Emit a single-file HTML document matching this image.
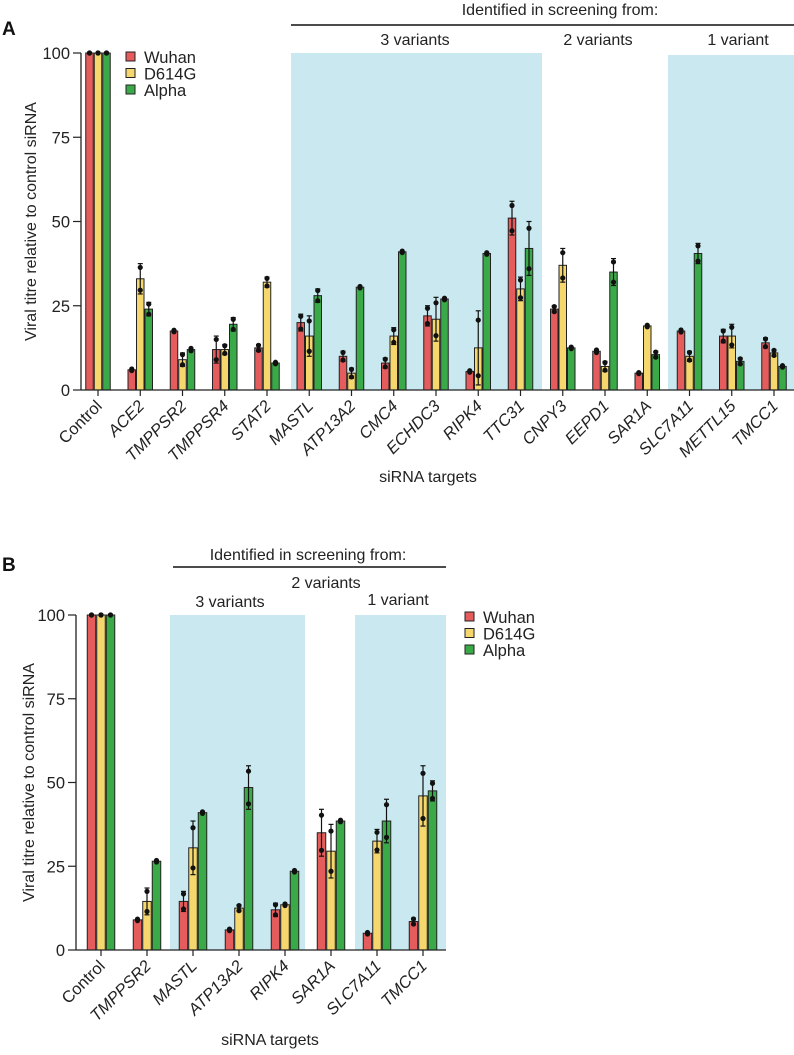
<!DOCTYPE html>
<html><head><meta charset="utf-8"><style>
html,body{margin:0;padding:0;background:#fff;}
svg{display:block;font-family:"Liberation Sans",Arial,sans-serif;}
</style></head><body>
<svg id="fig" width="794" height="1055" viewBox="0 0 794 1055" xmlns="http://www.w3.org/2000/svg"></svg>
<script>
const series = ['Wuhan','D614G','Alpha'];
const colors = ['#e45c5c','#f5d76e','#3aaa49'];
const yTicks = [0,25,50,75,100];

const catsA = ['Control','ACE2','TMPPSR2','TMPPSR4','STAT2','MASTL','ATP13A2','CMC4','ECHDC3','RIPK4','TTC31','CNPY3','EEPD1','SAR1A','SLC7A11','METTL15','TMCC1'];
const wuhanA = [100,6,17.5,12,12.5,20,10,8,22,5.5,51,24,11.5,5,17.5,16,14];
const d614gA = [100,33,9,12,32,16,5,16,21,12.5,30,37,7,19,10,16,11];
const alphaA = [100,24,12,19.5,8,28,30.5,41,27,40.5,42,12.5,35,10.5,40.5,8.5,7];
const wuhanErrA = [0,0.3,0.3,4,1,2.5,1.5,1.5,3,0.3,5,1,0.5,0.2,0.4,2,1.5];
const d614gErrA = [0,4.5,2,1.5,1.5,6,1.5,2.5,6.5,11,3.5,5,1.5,0.3,1.5,3.5,1];
const alphaErrA = [0,2,0.5,2,0.3,2,0.3,0.3,0.3,0.3,8,0.3,4,1,3,1,0.3];

const catsB = ['Control','TMPPSR2','MASTL','ATP13A2','RIPK4','SAR1A','SLC7A11','TMCC1'];
const wuhanB = [100,9,14.5,6,12,35,5,8.5];
const d614gB = [100,14.5,30.5,12.5,13.5,29.5,32.5,46];
const alphaB = [100,26.5,41,48.5,23.5,38.5,38.5,47.5];
const wuhanErrB = [0,0.3,3,0.3,2,7,0.3,1];
const d614gErrB = [0,4,8,1,0.3,8,3.5,9];
const alphaErrB = [0,0.3,0.3,6.5,0.3,0.3,6.5,3];

const NS='http://www.w3.org/2000/svg';
const svg=document.getElementById('fig');
function mk(tag,attrs,parent,text){const e=document.createElementNS(NS,tag);for(const k in attrs)e.setAttribute(k,attrs[k]);if(text!==undefined)e.textContent=text;(parent||svg).appendChild(e);return e;}

function panel(cfg){
  const g=mk('g',{});
  
  
  const y=v=>cfg.y0-(v/100)*(cfg.y0-cfg.y100);
  const xc=i=>cfg.x0+i*cfg.step;
  cfg.shades.forEach(s=>{const r=mk('rect',{x:s[0],y:s[2],width:s[1]-s[0],height:cfg.y0-s[2],fill:'#c9e8f0'},g);
    
    });
  const vals=[cfg.w,cfg.d,cfg.a], errs=[cfg.we,cfg.de,cfg.ae];
  cfg.cats.forEach((c,i)=>{
    for(let s=0;s<3;s++){
      const v=vals[s][i], e=errs[s][i];
      const bx=xc(i)+(s-1)*cfg.bw-cfg.bw/2+0.5;
      const r=mk('rect',{x:bx,y:y(v),width:cfg.bw-1,height:y(0)-y(v),fill:colors[s],stroke:'#222','stroke-width':1},g);
      
      
      const cx=bx+(cfg.bw-1)/2;
      if(e>0.5){
        mk('line',{x1:cx,x2:cx,y1:y(v+e),y2:y(v-e),stroke:'#111','stroke-width':1.2},g);
        mk('line',{x1:cx-2.5,x2:cx+2.5,y1:y(v+e),y2:y(v+e),stroke:'#111','stroke-width':1.2},g);
        mk('line',{x1:cx-2.5,x2:cx+2.5,y1:y(v-e),y2:y(v-e),stroke:'#111','stroke-width':1.2},g);
      }
      const sp=e*0.75;
      [v+sp,v-sp].forEach(dv=>{const d=mk('circle',{cx:cx,cy:y(dv),r:2.6,fill:'#111'},g);
        
        });
    }
    mk('line',{x1:xc(i),x2:xc(i),y1:cfg.y0,y2:cfg.y0+6,stroke:'#222','stroke-width':1.2},g);
    const t=mk('text',{x:xc(i)+5,y:cfg.y0+17,'font-size':16.5,'text-anchor':'end','font-style':i===0?'normal':'italic',fill:'#222',transform:`rotate(-45 ${xc(i)+5} ${cfg.y0+17})`},g,c);
    
    
  });
  mk('line',{x1:cfg.ax,x2:cfg.ax,y1:cfg.y100,y2:cfg.y0,stroke:'#222','stroke-width':1.3},g);
  mk('line',{x1:cfg.ax,x2:cfg.xEnd,y1:cfg.y0,y2:cfg.y0,stroke:'#222','stroke-width':1.3},g);
  yTicks.forEach(t=>{mk('line',{x1:cfg.ax-8,x2:cfg.ax,y1:y(t),y2:y(t),stroke:'#222','stroke-width':1.2},g);
    const l=mk('text',{x:cfg.ax-11,y:y(t)+6,'font-size':16.5,'text-anchor':'end',fill:'#222'},g,t);
    
    });
  const yt=mk('text',{x:cfg.ytx,y:(cfg.y0+cfg.y100)/2,'font-size':16,'text-anchor':'middle',fill:'#222',transform:`rotate(-90 ${cfg.ytx} ${(cfg.y0+cfg.y100)/2})`},g,'Viral titre relative to control siRNA');
  
  
  const xt=mk('text',{x:cfg.xtx,y:cfg.xty,'font-size':16,'text-anchor':'middle',fill:'#222'},g,'siRNA targets');
  
  
  series.forEach((s,k)=>{
    const ly=cfg.leg[1]+k*16.5;
    const r=mk('rect',{x:cfg.leg[0],y:ly-5,width:9,height:9,fill:colors[k],stroke:'#222','stroke-width':1},g);
    
    
    const t=mk('text',{x:cfg.leg[0]+18,y:ly+6,'font-size':16.5,fill:'#222'},g,s);
    
    
  });
  cfg.texts.forEach(a=>{const t=mk('text',{x:a[1],y:a[2],'font-size':16,'text-anchor':'middle',fill:'#222'},g,a[0]);
    
    });
  mk('line',{x1:cfg.line[0],x2:cfg.line[1],y1:cfg.line[2],y2:cfg.line[2],stroke:'#111','stroke-width':1.5},g);
  const pl=mk('text',{x:2,y:cfg.labelY,'font-size':19,'font-weight':'bold',fill:'#111'},g,cfg.label);
  
  
}

panel({name:'panel-a-chart',label:'A',labelY:35,cats:catsA,w:wuhanA,d:d614gA,a:alphaA,we:wuhanErrA,de:d614gErrA,ae:alphaErrA,
  x0:98,step:42.25,bw:8.5,y0:390,y100:53,ax:81,xEnd:794,ytx:36,xtx:428,xty:482,leg:[126,57],
  shades:[[291,542,53],[668,794,55]],
  texts:[['Identified in screening from:',560,15],['3 variants',415,45],['2 variants',598,45],['1 variant',738,45]],
  line:[291,794,25]});
panel({name:'panel-b-chart',label:'B',labelY:571,cats:catsB,w:wuhanB,d:d614gB,a:alphaB,we:wuhanErrB,de:d614gErrB,ae:alphaErrB,
  x0:101,step:46,bw:9.5,y0:950,y100:615,ax:76,xEnd:446,ytx:34,xtx:270,xty:1045,leg:[465,617],
  shades:[[170,305,615],[355,446,615]],
  texts:[['Identified in screening from:',308,560],['2 variants',326,588],['3 variants',230,607],['1 variant',398,605]],
  line:[173,446,567]});
</script>
</body></html>
